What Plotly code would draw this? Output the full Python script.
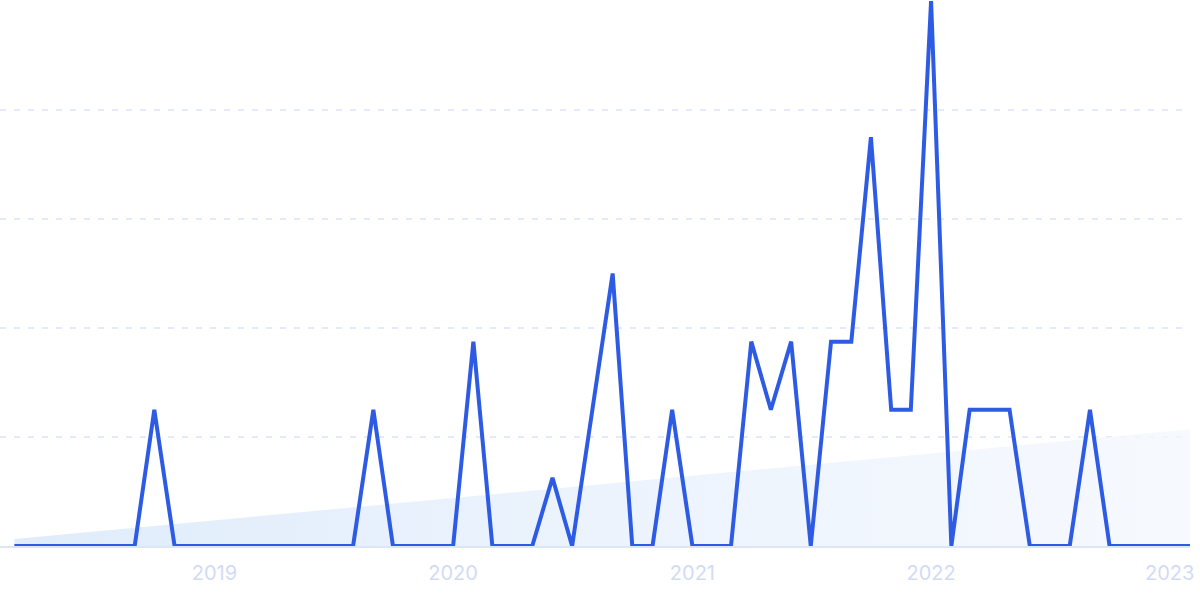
import plotly.graph_objects as go

months = [
    "2018-03", "2018-04", "2018-05", "2018-06", "2018-07", "2018-08", "2018-09", "2018-10", "2018-11", "2018-12",
    "2019-01", "2019-02", "2019-03", "2019-04", "2019-05", "2019-06", "2019-07", "2019-08", "2019-09", "2019-10",
    "2019-11", "2019-12", "2020-01", "2020-02", "2020-03", "2020-04", "2020-05", "2020-06", "2020-07", "2020-08",
    "2020-09", "2020-10", "2020-11", "2020-12", "2021-01", "2021-02", "2021-03", "2021-04", "2021-05", "2021-06",
    "2021-07", "2021-08", "2021-09", "2021-10", "2021-11", "2021-12", "2022-01", "2022-02", "2022-03", "2022-04",
    "2022-05", "2022-06", "2022-07", "2022-08", "2022-09", "2022-10", "2022-11", "2022-12", "2023-01", "2023-02",
]
interest = [
    0, 0, 0, 0, 0, 0, 0, 25, 0, 0,
    0, 0, 0, 0, 0, 0, 0, 0, 25, 0,
    0, 0, 0, 37.5, 0, 0, 0, 12.5, 0, 25,
    50, 0, 0, 25, 0, 0, 0, 37.5, 25, 37.5,
    0, 37.5, 37.5, 75, 25, 25, 100, 0, 25, 25,
    25, 0, 0, 0, 25, 0, 0, 0, 0, 0,
]
trend_x = ["2018-03", "2023-02"]
trend_y = [1.3, 21.4]
year_ticks = ["2019-01", "2020-01", "2021-01", "2022-01", "2023-01"]
year_labels = ["2019", "2020", "2021", "2022", "2023"]

fig = go.Figure()
fig.add_trace(go.Scatter(
    x=trend_x, y=trend_y, mode="lines", line=dict(width=0),
    fill="tozeroy",
    fillgradient=dict(type="horizontal",
                      colorscale=[[0, "rgba(222,235,251,0.95)"], [1, "rgba(244,248,254,0.8)"]]),
    hoverinfo="skip", showlegend=False,
))
fig.add_trace(go.Scatter(
    x=months, y=interest, mode="lines",
    line=dict(color="#2e5be4", width=4),
    showlegend=False,
))

fig.update_layout(
    width=1200, height=599,
    margin=dict(l=0, r=10, t=1, b=53),
    plot_bgcolor="white", paper_bgcolor="white",
    xaxis=dict(
        type="date",
        range=["2018-02-07", "2023-02-01"],
        tickvals=year_ticks, ticktext=year_labels,
        showgrid=False, zeroline=False,
        showline=True, linecolor="#dbe6f8", linewidth=1.5,
        tickfont=dict(family="Inter", size=20, color="#d2dbf6"),
        ticks="", ticklabelstandoff=8,
    ),
    yaxis=dict(
        range=[0, 100], tickvals=[20, 40, 60, 80, 100],
        showticklabels=False, zeroline=False,
        showgrid=True, gridcolor="#e3eafc", gridwidth=2, griddash="6px,8px",
    ),
)
fig.write_html(
    "out.html",
    config={"displayModeBar": False},
    post_script="document.body.style.margin='0';document.body.style.overflow='hidden';",
)
